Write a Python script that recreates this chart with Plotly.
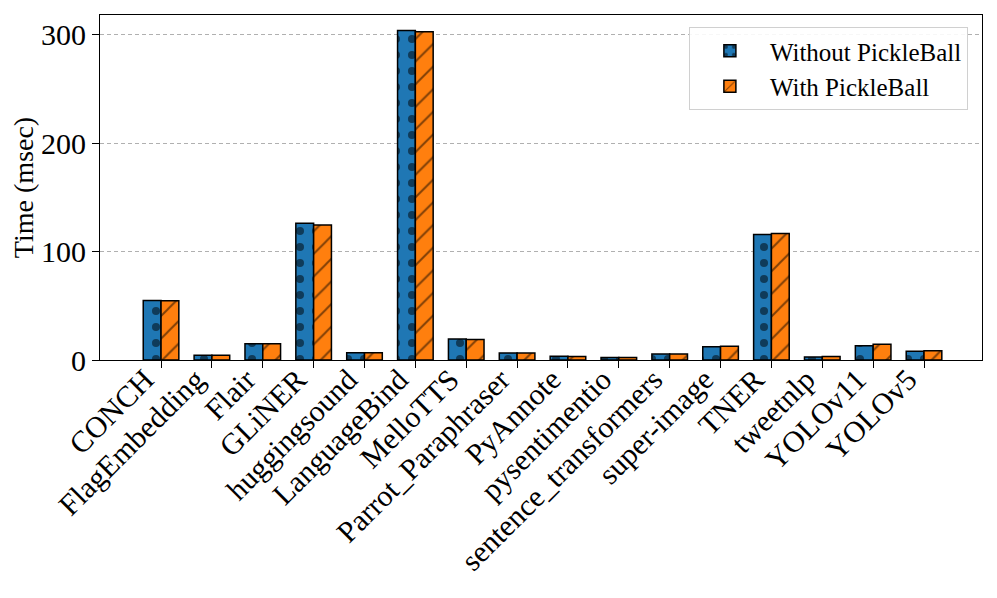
import plotly.graph_objects as go

categories = ["CONCH", "FlagEmbedding", "Flair", "GLiNER", "huggingsound", "LanguageBind",
              "MelloTTS", "Parrot_Paraphraser", "PyAnnote", "pysentimentio",
              "sentence_transformers", "super-image", "TNER", "tweetnlp", "YOLOv11", "YOLOv5"]
without_pb = [54.8, 4.4, 15.1, 126.2, 6.8, 304.0, 19.4, 6.5, 3.4, 2.2, 5.5, 12.3, 115.7, 2.8, 13.2, 8.0]
with_pb = [54.6, 4.4, 15.0, 124.6, 6.8, 302.8, 18.8, 6.4, 3.2, 2.2, 5.5, 12.6, 116.6, 3.2, 14.5, 8.6]
y_ticks = [0, 100, 200, 300]

FONT = "Liberation Serif, Times New Roman, serif"
x_idx = list(range(len(categories)))

fig = go.Figure()
fig.add_trace(go.Bar(
    x=x_idx, y=without_pb, name="Without PickleBall",
    marker=dict(color="#1f77b4", line=dict(color="black", width=1.5),
                pattern=dict(shape=".", fgcolor="black", size=16, solidity=0.2)),
))
fig.add_trace(go.Bar(
    x=x_idx, y=with_pb, name="With PickleBall",
    marker=dict(color="#ff7f0e", line=dict(color="black", width=1.5),
                pattern=dict(shape="/", fgcolor="black", size=16, solidity=0.12)),
))

fig.update_layout(
    width=997, height=598,
    margin=dict(l=92, r=23, t=7, b=246, autoexpand=False),
    paper_bgcolor="white", plot_bgcolor="white",
    barmode="group", bargap=0.3, bargroupgap=0,
    font=dict(family=FONT, size=28, color="black"),
    showlegend=True,
    legend=dict(x=0.984, y=0.965, xanchor="right", yanchor="top",
                bordercolor="#d0d0d0", borderwidth=1, bgcolor="rgba(255,255,255,0.9)",
                font=dict(family=FONT, size=25, color="black"),
                itemwidth=70, tracegroupgap=8),
)
fig.update_xaxes(
    range=[-1.2, 16.14], tickmode="array", tickvals=x_idx, ticktext=categories,
    tickangle=-45, ticks="outside", ticklen=7, tickcolor="black",
    ticklabelshift=-16, ticklabelstandoff=-18, automargin=False,
    showline=True, linecolor="black", linewidth=1.2, mirror=True,
    showgrid=False, tickfont=dict(family=FONT, size=30, color="black"),
)
fig.update_yaxes(
    range=[0, 318.2], tickmode="array", tickvals=y_ticks, automargin=False,
    ticks="outside", ticklen=7, tickcolor="black",
    showline=True, linecolor="black", linewidth=1.2, mirror=True,
    showgrid=True, gridcolor="#b0b0b0", griddash="4px,3px", gridwidth=1,
    zeroline=False,
    title=dict(text="Time (msec)", font=dict(family=FONT, size=28, color="black"), standoff=6),
    tickfont=dict(family=FONT, size=30, color="black"),
)

fig.write_html("out.html")
